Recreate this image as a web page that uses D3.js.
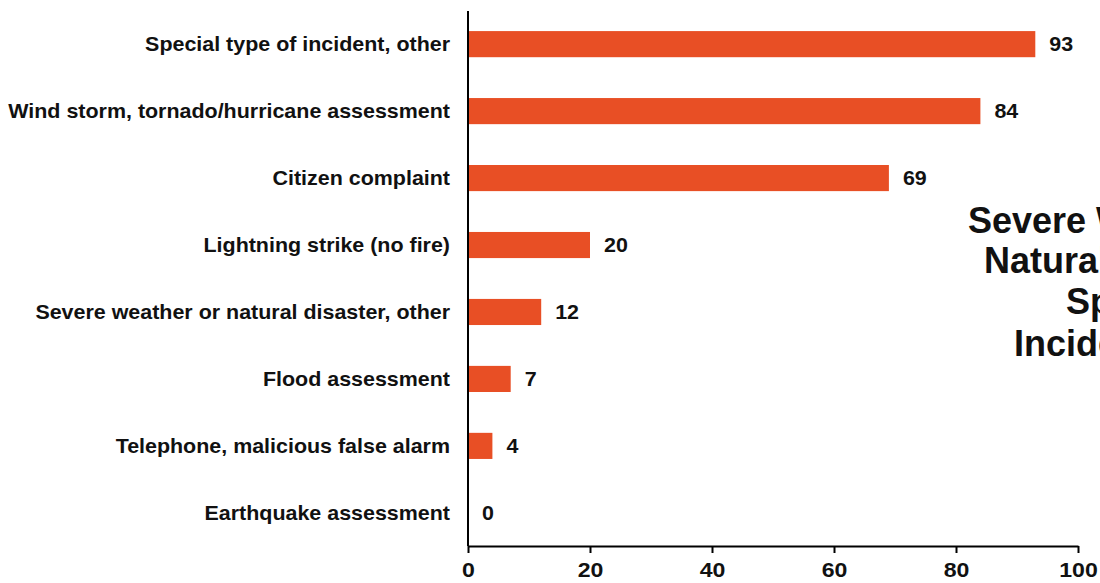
<!DOCTYPE html>
<meta charset="utf-8">
<style>
  body { margin: 0; background: #fff; }
  text { font-family: "Liberation Sans", Arial, sans-serif; font-weight: bold; fill: #111; }
</style>
<svg width="1100" height="583"></svg>
<script src="https://cdn.jsdelivr.net/npm/d3@7"></script>
<script>

var categories = ["Special type of incident, other", "Wind storm, tornado/hurricane assessment", "Citizen complaint",
  "Lightning strike (no fire)", "Severe weather or natural disaster, other", "Flood assessment",
  "Telephone, malicious false alarm", "Earthquake assessment"];
var counts = [93, 84, 69, 20, 12, 7, 4, 0];
var ticks = [0, 20, 40, 60, 80, 100];
var titleLines = ["Severe Weather/", "Natural Disaster", "Special", "Incidents"];

var svg = d3.select("svg"),
    plotLeft = 468, plotRight = 1078, plotTop = 11, plotBottom = 546,
    stretch = 1.1; // the source font renders a bit wide

var x = d3.scaleLinear().domain([0, 100]).range([plotLeft, plotRight]);
var y = d3.scaleBand().domain(categories).range([plotTop, plotBottom]).paddingInner(0.61).paddingOuter(0.3);

svg.selectAll("rect.bar")
  .data(counts)
  .enter().append("rect")
    .attr("x", x(0) + 1)
    .attr("y", function(d, i) { return y(categories[i]); })
    .attr("width", function(d) { return Math.max(0, x(d) - x(0) - 1); })
    .attr("height", y.bandwidth())
    .attr("fill", "#e84f25");

svg.selectAll("text.val")
  .data(counts)
  .enter().append("text")
    .attr("transform", function(d, i) {
      return "translate(" + (x(d) + 14) + "," + (y(categories[i]) + y.bandwidth() / 2) + ") scale(" + stretch + ",1)";
    })
    .attr("dy", "0.36em")
    .style("font-size", "19.5px")
    .text(function(d) { return d; });

svg.selectAll("text.cat")
  .data(categories)
  .enter().append("text")
    .attr("transform", function(d) {
      return "translate(450," + (y(d) + y.bandwidth() / 2) + ") scale(" + stretch + ",1)";
    })
    .attr("dy", "0.36em")
    .attr("text-anchor", "end")
    .style("font-size", "19.5px")
    .text(function(d) { return d; });

// y axis line
svg.append("line")
  .attr("x1", plotLeft).attr("x2", plotLeft)
  .attr("y1", plotTop).attr("y2", plotBottom)
  .attr("stroke", "#000").attr("stroke-width", 2);

var xAxis = svg.append("g")
  .attr("transform", "translate(0," + plotBottom + ")")
  .call(d3.axisBottom(x).tickValues(ticks).tickSize(7).tickSizeOuter(0).tickPadding(6));
xAxis.select(".domain").attr("stroke", "#000").attr("stroke-width", 2);
xAxis.selectAll(".tick line").attr("stroke", "#000").attr("stroke-width", 2);
xAxis.selectAll(".tick text")
  .attr("y", 0)
  .attr("dy", 0)
  .attr("transform", "translate(0,31) scale(" + stretch + ",1)")
  .style("font-size", "21px")
  .style("font-family", "'Liberation Sans', Arial, sans-serif")
  .style("font-weight", "bold")
  .attr("fill", "#111");

var titleX = [968, 984, 1066, 1014];
var titleY = [233, 273, 314, 356];
svg.selectAll("text.title")
  .data(titleLines)
  .enter().append("text")
    .attr("x", function(d, i) { return titleX[i]; })
    .attr("y", function(d, i) { return titleY[i]; })
    .style("font-size", "36px")
    .attr("fill", "#222")
    .text(function(d) { return d; });

</script>
